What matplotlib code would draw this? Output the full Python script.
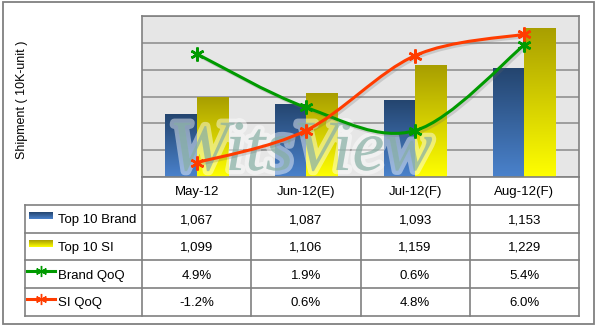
import numpy as np
import matplotlib
matplotlib.use("Agg")
import matplotlib.pyplot as plt
from matplotlib.path import Path
from matplotlib.patches import PathPatch, Rectangle
import matplotlib.patheffects as pe

# data
months = ['May-12', 'Jun-12(E)', 'Jul-12(F)', 'Aug-12(F)']
top10_brand = [1067, 1087, 1093, 1153]
top10_si = [1099, 1106, 1159, 1229]
brand_qoq = [4.9, 1.9, 0.6, 5.4]
si_qoq = [-1.2, 0.6, 4.8, 6.0]
series_names = ['Top 10 Brand', 'Top 10 SI', 'Brand QoQ', 'SI QoQ']

W, H = 597, 326
fig = plt.figure(figsize=(W / 100, H / 100), dpi=100)
plt.rcParams['font.family'] = ['Liberation Sans', 'DejaVu Sans']

GRAY = '#808080'
GREEN = '#009a00'
RED = '#ff3c00'
BLUE_TOP, BLUE_BOT = '#24456f', '#4a82cc'
YEL_TOP, YEL_BOT = '#a89e00', '#ffff00'


def fx(px):
    return px / W


def fy(py):
    return 1 - py / H


def vgrad(c_top, c_bot, n=256):
    g = np.linspace(0, 1, n)[:, None, None]
    a = np.array(matplotlib.colors.to_rgb(c_top))[None, None, :]
    b = np.array(matplotlib.colors.to_rgb(c_bot))[None, None, :]
    return a * (1 - g) + b * g


# main plot area
left, right, top, bottom = 142, 579, 16.3, 177
ax = fig.add_axes([fx(left), fy(bottom), fx(right - left), (bottom - top) / H])
ax.set_facecolor('#e6e6e6')
ax.set_xlim(-0.5, 3.5)
ax.set_ylim(950, 1250)
ax.set_yticks(np.arange(950, 1251, 50))
ax.yaxis.grid(True, color='#8a8a8a', linewidth=1.1)
ax.set_axisbelow(True)
for s in ax.spines.values():
    s.set_color(GRAY)
    s.set_linewidth(1.2)

x = np.arange(len(months))
bw = 0.285


def gradient_bars(xs, vals, c_top, c_bot):
    bars = ax.bar(xs, vals, width=bw, facecolor='none', edgecolor='none', zorder=2)
    img = vgrad(c_top, c_bot)
    for b in bars:
        x0 = b.get_x()
        im = ax.imshow(img, extent=(x0, x0 + b.get_width(), 950, b.get_height()),
                       aspect='auto', zorder=2, interpolation='bilinear')
        im.set_clip_path(b)
    return bars


gradient_bars(x - bw / 2, top10_brand, BLUE_TOP, BLUE_BOT)
gradient_bars(x + bw / 2, top10_si, YEL_TOP, YEL_BOT)
ax.set_xlim(-0.5, 3.5)
ax.set_ylim(950, 1250)

# secondary axis for QoQ lines
ax2 = ax.twinx()
ax2.set_ylim(-2, 7)
ax2.set_xlim(-0.5, 3.5)
ax2.axis('off')
ax.tick_params(left=False, right=False, labelleft=False, bottom=False, labelbottom=False)

# watermark
ax2.text(0.955, -1.61, 'WitsView', fontsize=52, family='Liberation Serif', style='italic',
         color='#6f9f92', alpha=0.45, ha='center', va='baseline', zorder=1, clip_on=True,
         path_effects=[pe.withStroke(linewidth=6, foreground=(1, 1, 1, 0.45))])


def smooth_path(xs, ys):
    pts = np.column_stack([xs, ys]).astype(float)
    ext = np.vstack([pts[0], pts, pts[-1]])
    verts = [pts[0]]
    codes = [Path.MOVETO]
    for i in range(len(pts) - 1):
        p0, p1, p2, p3 = ext[i], ext[i + 1], ext[i + 2], ext[i + 3]
        verts += [p1 + (p2 - p0) / 6, p2 - (p3 - p1) / 6, p2]
        codes += [Path.CURVE4] * 3
    return Path(verts, codes)


shadow = [pe.SimpleLineShadow(offset=(1.5, -1.5), shadow_color='#666666', alpha=0.22),
          pe.Normal()]
for vals, col in [(brand_qoq, GREEN), (si_qoq, RED)]:
    patch = PathPatch(smooth_path(x, vals), facecolor='none', edgecolor=col,
                      linewidth=2.2, zorder=5, path_effects=shadow)
    ax2.add_patch(patch)
    ax2.plot(x, vals, linestyle='none', marker=(6, 2, 0), markersize=10,
             markeredgewidth=1.8, color=col, zorder=6)

# table under the plot, in row units
tb_top, tb_bot = 177, 316
axt = fig.add_axes([fx(left), fy(tb_bot), fx(right - left), (tb_bot - tb_top) / H])
axt.set_xlim(-0.5, 3.5)
axt.set_ylim(5, 0)
axt.axis('off')
unit = (right - left) / 4


def px_to_col(px):
    return -0.5 - (left - px) / unit


lab_left = px_to_col(24.5)
lk = dict(color=GRAY, linewidth=1.2, clip_on=False)
for xv in [-0.5, 0.5, 1.5, 2.5, 3.5]:
    axt.plot([xv, xv], [0, 5], **lk)
axt.plot([lab_left, lab_left], [1, 5], **lk)
for r in range(1, 6):
    axt.plot([lab_left, 3.5], [r, r], **lk)

fs = 9.5
for i, m in enumerate(months):
    axt.text(i, 0.55, m, ha='center', va='center', fontsize=fs)
rows = [
    ['{:,}'.format(v) for v in top10_brand],
    ['{:,}'.format(v) for v in top10_si],
    ['{:.1f}%'.format(v) for v in brand_qoq],
    ['{:.1f}%'.format(v) for v in si_qoq],
]
for r, row in enumerate(rows):
    for i, s in enumerate(row):
        axt.text(i, r + 1.55, s, ha='center', va='center', fontsize=fs)

# legend keys inside table
kx0, kx1 = px_to_col(29), px_to_col(53)
for r, (ct, cb) in enumerate([(BLUE_TOP, BLUE_BOT), (YEL_TOP, YEL_BOT)]):
    axt.imshow(vgrad(ct, cb, 64), extent=(kx0, kx1, r + 1.52, r + 1.27), aspect='auto',
               clip_on=False, interpolation='bilinear')
axt.set_xlim(-0.5, 3.5)
axt.set_ylim(5, 0)
lx0, lx1 = px_to_col(27), px_to_col(55)
for r, col in [(3, GREEN), (4, RED)]:
    axt.plot([lx0, lx1], [r + 0.38, r + 0.38], color=col, linewidth=2.2, clip_on=False)
    axt.plot([(lx0 + lx1) / 2], [r + 0.38], marker=(6, 2, 0), markersize=8,
             markeredgewidth=1, color=col, clip_on=False)
tx = px_to_col(58)
for r, name in enumerate(series_names):
    axt.text(tx, r + 1.55, name, ha='left', va='center', fontsize=fs, clip_on=False)

fig.text(fx(22), fy(100), 'Shipment ( 10K-unit )', rotation=90, ha='center', va='center',
         fontsize=9)

fig.add_artist(Rectangle((fx(2.5), fy(323.5)), fx(591.5), (322 / H), transform=fig.transFigure,
                         fill=False, edgecolor=GRAY, linewidth=1.3))

fig.savefig('out.png', dpi=100)
